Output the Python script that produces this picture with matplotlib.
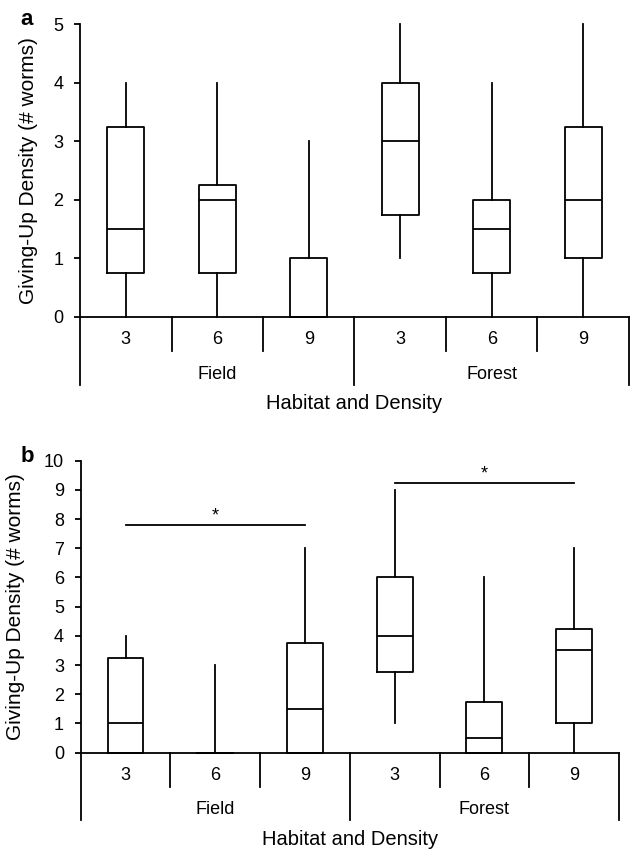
import matplotlib.pyplot as plt

plt.rcParams['font.family'] = ['Liberation Sans', 'DejaVu Sans']

groups = ['Field', 'Forest']
densities = ['3', '6', '9', '3', '6', '9']

# panel a
a_whislo = [0, 0, 0, 1, 0, 0]
a_q1 = [0.75, 0.75, 0, 1.75, 0.75, 1]
a_med = [1.5, 2, 0, 3, 1.5, 2]
a_q3 = [3.25, 2.25, 1, 4, 2, 3.25]
a_whishi = [4, 4, 3, 5, 4, 5]

# panel b
b_whislo = [0, 0, 0, 1, 0, 0]
b_q1 = [0, 0, 0, 2.75, 0, 1]
b_med = [1, 0, 1.5, 4, 0.5, 3.5]
b_q3 = [3.25, 0, 3.75, 6, 1.75, 4.25]
b_whishi = [4, 3, 7, 9, 6, 7]

# significance bars in panel b: (from, to, height)
b_sig = [(0, 2, 7.8), (3, 5, 9.25)]

lw = 1.3


def draw_panel(ax, whislo, q1, med, q3, whishi, ymax, letter, ylab_x):
    stats = []
    for i in range(len(med)):
        stats.append(dict(med=med[i], q1=q1[i], q3=q3[i],
                          whislo=whislo[i], whishi=whishi[i], fliers=[]))
    art = ax.bxp(stats, positions=range(len(stats)), widths=0.4,
                 showcaps=False, showfliers=False,
                 boxprops=dict(color='black', linewidth=lw),
                 medianprops=dict(color='black', linewidth=lw),
                 whiskerprops=dict(color='black', linewidth=lw))
    for key in art:
        for a in art[key]:
            a.set_clip_on(False)

    ax.set_xlim(-0.5, len(med) - 0.5)
    ax.set_ylim(0, ymax)
    ax.set_yticks(range(0, ymax + 1))
    ax.tick_params(axis='y', direction='out', length=4, width=lw,
                   labelsize=13, pad=8)
    ax.set_xticks([])
    for s in ['top', 'right']:
        ax.spines[s].set_visible(False)
    for s in ['left', 'bottom']:
        ax.spines[s].set_linewidth(lw)

    # category separators below the axis
    tr = ax.get_xaxis_transform()
    for i in range(len(med) + 1):
        x = i - 0.5
        bottom = -0.232 if i % 3 == 0 else -0.116
        ax.plot([x, x], [0, bottom], color='black', lw=lw,
                transform=tr, clip_on=False)
    for i, d in enumerate(densities):
        ax.text(i, -0.078, d, transform=tr, ha='center', va='center',
                fontsize=13)
    for j, g in enumerate(groups):
        ax.text(3 * j + 1, -0.196, g, transform=tr, ha='center',
                va='center', fontsize=13)
    ax.text(2.5, -0.297, 'Habitat and Density', transform=tr,
            ha='center', va='center', fontsize=14.5)

    pos = ax.get_position()
    fig.text(ylab_x, pos.y0 + pos.height / 2,
             'Giving-Up Density (# worms)', rotation=90,
             ha='center', va='center', fontsize=15)
    fig.text(27 / 631, pos.y1 - 0.001, letter, fontsize=16,
             fontweight='bold', ha='center', va='baseline')


fig = plt.figure(figsize=(6.31, 8.5), dpi=100)
ax1 = fig.add_axes([0.1268, 0.6271, 0.870, 0.3444])
ax2 = fig.add_axes([0.1279, 0.1145, 0.853, 0.3435])

draw_panel(ax1, a_whislo, a_q1, a_med, a_q3, a_whishi, 5, 'a', 29 / 631)
draw_panel(ax2, b_whislo, b_q1, b_med, b_q3, b_whishi, 10, 'b', 16 / 631)

for x0, x1, y in b_sig:
    ax2.plot([x0, x1], [y, y], color='black', lw=lw, clip_on=False)
    ax2.annotate('*', xy=((x0 + x1) / 2, y), xytext=(0, 3),
                 textcoords='offset points', ha='center', va='baseline',
                 fontsize=13)

fig.savefig('out.png', dpi=100)
